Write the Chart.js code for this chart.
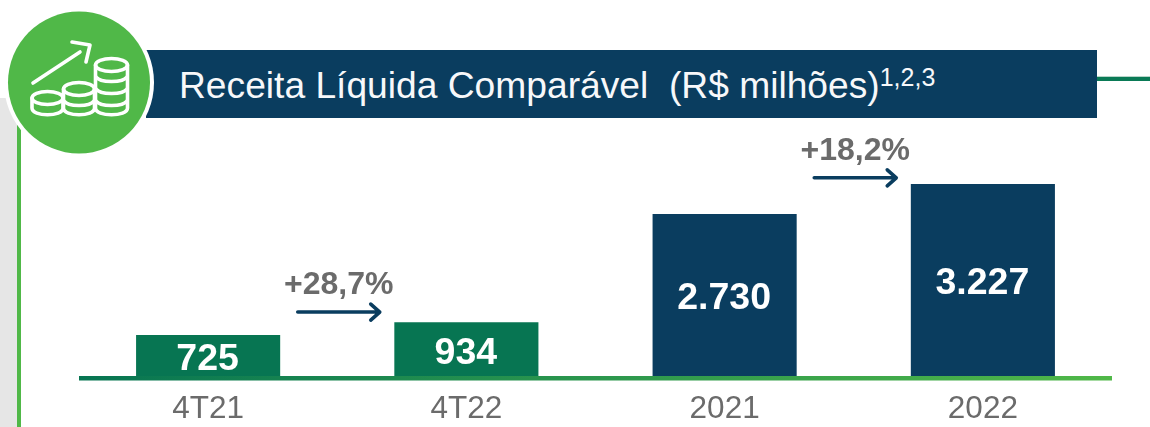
<!DOCTYPE html>
<html lang="pt-BR"><head><meta charset="utf-8">
<style>
html,body{margin:0;padding:0;background:#fff;overflow:hidden}
#stage{position:relative;width:1150px;height:427px;font-family:"Liberation Sans",Arial,sans-serif}
#stage div,#stage svg,#stage canvas{position:absolute}
#strip{left:0;top:98px;width:17px;height:329px;background:#e6e6e6}
#rule{left:17px;top:98px;width:4px;height:329px;background:#50b848}
#band{left:146px;top:50px;width:951px;height:68px;background:#0a3d5f}
#title{left:179px;top:63px;color:#fff;font-size:37.2px;line-height:44px;white-space:pre;opacity:.97}
#title sup{font-size:25px;line-height:0;vertical-align:12px}
#tail{left:1097px;top:77px;width:53px;height:4px;background:#0a7a56;box-shadow:0 -1px 0 #b9d6ca}
</style></head><body>
<div id="stage">
<div id="strip"></div><div id="rule"></div>
<div id="band"></div><div id="tail"></div>
<div id="title">Receita Líquida Comparável  (R$ milhões)<sup>1,2,3</sup></div>
<canvas id="c" width="1150" height="427" style="left:0;top:0;width:1150px;height:427px"></canvas>
<svg width="160" height="160" style="left:0;top:2px" viewBox="0 2 160 160">
<circle cx="79" cy="82.5" r="75" fill="#fff"/>
<circle cx="79" cy="82.5" r="71" fill="#50b848"/>
<g fill="none" stroke="#fff" stroke-width="3.6" stroke-linecap="round" stroke-linejoin="round">
<path d="M33 83 L80 52"/><path d="M72 42 L90 45 L86 62"/>
<ellipse cx="47.500" cy="98" rx="15.500" ry="6.500"/>
<path d="M32 98 V108 C32 117 63 117 63 108 V98"/>
<ellipse cx="79" cy="89" rx="15.500" ry="6.500"/>
<path d="M63.500 89 V108 C63.500 117 94.500 117 94.500 108 V89"/>
<path d="M64 101 C68 107 90 107 94 101"/>
<ellipse cx="111.500" cy="65" rx="16" ry="6.500"/>
<path d="M95.500 65 V108 C95.500 117 127.500 117 127.500 108 V65"/>
<path d="M96 77 C100 83 123 83 127 77"/><path d="M96 89 C100 95 123 95 127 89"/><path d="M96 101 C100 107 123 107 127 101"/>
</g></svg>
</div>
<script src="https://cdn.jsdelivr.net/npm/chart.js@4"></script>
<script>
const categories = ["4T21","4T22","2021","2022"];
const revenue = [725,934,2730,3227];
const valueLabels = ["725","934","2.730","3.227"];
const barColors = ["#077552","#077552","#0a3d5f","#0a3d5f"];
const growthLabels = ["+28,7%","+18,2%"];
const growthPairs = [[0,1],[2,3]];
const growthLevels = [1105,3330];
const FONT = '"Liberation Sans", Arial, sans-serif';

const overlay = {
  id:'overlay',
  afterDatasetsDraw(chart){
    const {ctx,scales:{x,y}} = chart;
    const base = y.bottom;
    const g = ctx.createLinearGradient(x.left,0,x.right,0);
    g.addColorStop(0,'#077552'); g.addColorStop(1,'#50b848');
    ctx.save();
    ctx.fillStyle = g;
    ctx.fillRect(x.left,base,x.right-x.left,4.5);
    const bars = chart.getDatasetMeta(0).data;
    ctx.textAlign='center'; ctx.textBaseline='middle';
    ctx.fillStyle='#fff'; ctx.font='bold 37.5px '+FONT;
    bars.forEach((b,i)=>ctx.fillText(valueLabels[i],b.x-0.5,(b.y+base)/2+4));
    growthPairs.forEach(([a,c],i)=>{
      const cx=(bars[a].x+bars[c].x)/2+1.5, ay=y.getPixelForValue(growthLevels[i]);
      ctx.fillStyle='#6b6b6b'; ctx.font='bold 32px '+FONT;
      ctx.fillText(growthLabels[i],cx,ay-26.5);
      ctx.strokeStyle='#0a3d5f'; ctx.lineWidth=3.6; ctx.lineCap='round'; ctx.lineJoin='round';
      ctx.beginPath(); ctx.moveTo(cx-41,ay); ctx.lineTo(cx+41,ay);
      ctx.moveTo(cx+32,ay-8); ctx.lineTo(cx+41,ay); ctx.lineTo(cx+32,ay+8); ctx.stroke();
    });
    ctx.restore();
  }
};
new Chart(document.getElementById('c'),{
  type:'bar',
  data:{labels:categories,datasets:[{data:revenue,backgroundColor:barColors,borderWidth:0,categoryPercentage:1,barPercentage:0.558}]},
  options:{
    responsive:false,animation:false,
    layout:{padding:{left:79,right:38,top:138,bottom:0}},
    plugins:{legend:{display:false},tooltip:{enabled:false},title:{display:false}},
    scales:{
      x:{grid:{display:false,drawTicks:false},border:{display:false},
         ticks:{color:'#6b6b6b',font:{family:FONT,size:31.5},padding:14,maxRotation:0},
         afterFit(s){s.height=51;}},
      y:{display:false,min:45,max:3990}
    }
  },
  plugins:[overlay]
});
</script>
</body></html>
